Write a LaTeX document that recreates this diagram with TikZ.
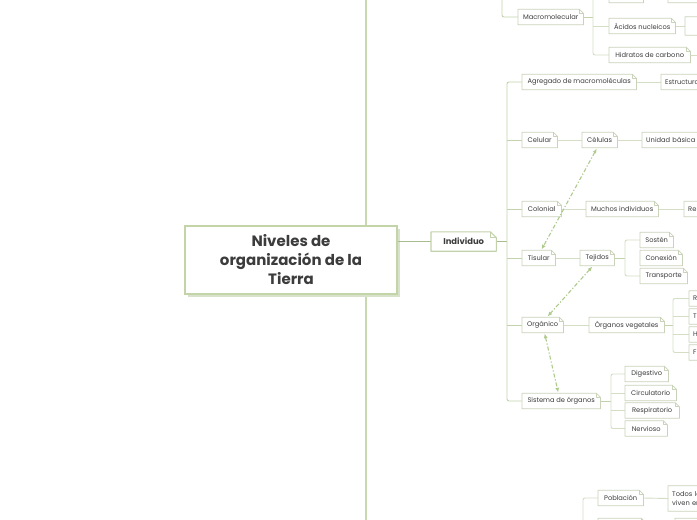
\documentclass[tikz,border=0pt]{standalone}
\usepackage{fontspec}
\setmainfont{Poppins}
\usetikzlibrary{arrows.meta}
\definecolor{trunkc}{HTML}{C8D9B0}
\definecolor{mainc}{HTML}{A9BC90}
\definecolor{branchc}{HTML}{C2D2AC}
\definecolor{subc}{HTML}{D3DEC4}
\definecolor{boxc}{HTML}{C9D3BA}
\definecolor{cenc}{HTML}{C2D4A8}
\definecolor{dashc}{HTML}{AECB8D}
\definecolor{txtc}{HTML}{3C3C3C}
\definecolor{shadc}{HTML}{D8E2CB}
\tikzset{
  nb/.style={fill=white, inner xsep=4pt, inner ysep=0pt, anchor=west, minimum height=15pt,
    text=txtc, font=\fontsize{6.7}{8}\selectfont},
  nbl/.style={nb, align=left},
  boxline/.style={draw=boxc, line width=0.8pt, line join=round},
  trunkline/.style={draw=trunkc, line width=1.1pt},
  mainline/.style={draw=mainc, line width=1.3pt},
  brline/.style={draw=branchc, line width=0.9pt, rounded corners=2pt},
  subline/.style={draw=subc, line width=0.9pt, rounded corners=2pt},
  dashline/.style={draw=dashc, line width=1.1pt, dash pattern=on 4pt off 2pt on 1.2pt off 2pt,
    {Latex[length=4.5pt,width=4pt]}-{Latex[length=4.5pt,width=4pt]}},
}
\newcommand\foldbox[2][4pt]{%
  \draw[boxline] (#2.south west) -- (#2.north west) -- ([xshift=-#1]#2.north east)
     -- ([yshift=-#1]#2.north east) -- (#2.south east) -- cycle;
  \draw[boxline] ([xshift=-#1]#2.north east) |- ([yshift=-#1]#2.north east);
}
\begin{document}
\begin{tikzpicture}[x=1pt,y=-1pt]
\useasboundingbox (0,0) rectangle (697,520);
\clip (0,0) rectangle (697,520);
\fill[white] (0,0) rectangle (697,520);

% ---------- trunk ----------
\coordinate (ttop) at (366,-10);
\coordinate (tbot) at (366,530);
\draw[trunkline] (ttop) -- (tbot);

% ---------- central node ----------
\fill[shadc] (188,229) rectangle (400,297);
\node[fill=white, draw=cenc, line width=1.1pt, minimum width=212pt, minimum height=68pt,
  inner sep=0pt, align=center, text=txtc, font=\bfseries\fontsize{15}{19}\selectfont]
  (cen) at (291,260) {Niveles de\\organización de la\\Tierra};

% ---------- top: Macromolecular ----------
\node[nb, minimum width=65pt] (mac) at (518,17) {Macromolecular};
\node[nb, minimum width=34pt] (lip) at (609,-5) {Lípidos};
\node[nb, minimum width=60pt] (lipr) at (668,-5) {};
\node[nb, minimum width=66pt] (aci) at (609,26) {Ácidos nucleicos};
\node[nb, minimum width=60pt, minimum height=18pt] (acir) at (685,26) {};
\node[nb, minimum width=81pt] (hid) at (609,55) {Hidratos de carbono};
\coordinate (hidr) at (705,55);
\coordinate (mtop) at (502,-10);
\coordinate (mb) at (593,17);
\coordinate (mbt) at (593,-10);

\draw[brline] (mtop) |- (mac.west);
\draw[brline] (mac.east) -- (mb);
\draw[subline] (mbt) |- (hid.west);
\draw[subline] (mb |- lip.west) -- (lip.west);
\draw[subline] (mb |- aci.west) -- (aci.west);
\draw[subline] (lip.east) -- (lipr.west);
\draw[subline] (aci.east) -- (acir.west);
\draw[subline] (hid.east) -- (hidr);

% ---------- Individuo ----------
\node[nb, minimum width=65pt, minimum height=19pt, font=\bfseries\fontsize{8.4}{10}\selectfont]
  (ind) at (431,241.5) {Individuo};
\draw[mainline] (cen.east |- ind.west) -- (ind.west);
\coordinate (b1) at (507,241.5);
\draw[mainline, line width=1.2pt] (ind.east) -- (b1);

\node[nb, minimum width=114pt] (agr) at (522,82) {Agregado de macromoléculas};
\node[nbl, text width=80pt] (est) at (661,82) {Estructura};
\node[nb, minimum width=35pt] (cel) at (522,140) {Celular};
\node[nb, minimum width=35pt] (cels) at (582,140) {Células};
\node[nbl, text width=80pt] (uni) at (642,140) {Unidad básica};
\node[nb, minimum width=39pt] (col) at (522,209) {Colonial};
\node[nb, minimum width=72pt] (muc) at (586,209) {Muchos individuos};
\node[nbl, text width=60pt] (rep) at (684,209) {Re};
\node[nb, minimum width=33pt] (tis) at (522,258) {Tisular};
\node[nb, minimum width=34pt] (tej) at (580,258) {Tejidos};
\node[nb, minimum width=33pt] (sos) at (640,240) {Sostén};
\node[nb, minimum width=42pt] (con) at (640,258) {Conexión};
\node[nb, minimum width=47pt] (tra) at (640,276) {Transporte};
\node[nb, minimum width=41pt] (org) at (522,325) {Orgánico};
\node[nb, minimum width=75pt] (orv) at (589,325) {Órganos vegetales};
\node[nbl, text width=40pt] (ovr) at (689,298.5) {R};
\node[nbl, text width=40pt] (ovt) at (689,316.5) {T};
\node[nbl, text width=40pt] (ovh) at (689,334.5) {H};
\node[nbl, text width=40pt] (ovf) at (689,352.5) {F};
\node[nb, minimum width=78pt] (sis) at (522,401) {Sistema de órganos};
\node[nb, minimum width=43pt] (dig) at (625,374) {Digestivo};
\node[nb, minimum width=51pt] (cir) at (625,393) {Circulatorio};
\node[nb, minimum width=54pt] (res) at (625,410.5) {Respiratorio};
\node[nb, minimum width=42pt] (ner) at (625,428.5) {Nervioso};

% branch lines from Individuo
\draw[brline] (b1) |- (agr.west);
\draw[brline] (b1) |- (sis.west);
\draw[brline] (b1 |- cel.west) -- (cel.west);
\draw[brline] (b1 |- col.west) -- (col.west);
\draw[brline] (b1 |- tis.west) -- (tis.west);
\draw[brline] (b1 |- org.west) -- (org.west);

\draw[subline] (agr.east) -- (est.west);
\draw[subline] (cel.east) -- (cels.west);
\draw[subline] (cels.east) -- (uni.west);
\draw[subline] (col.east) -- (muc.west);
\draw[subline] (muc.east) -- (rep.west);
\draw[subline] (tis.east) -- (tej.west);
\draw[subline] (org.east) -- (orv.west);

\coordinate (tb) at (625,258);
\draw[brline] (tej.east) -- (tb);
\draw[subline] (tb) |- (sos.west);
\draw[subline] (tb) |- (tra.west);

\coordinate (ob) at (673,325);
\draw[brline] (orv.east) -- (ob);
\draw[subline] (ob) |- (ovr.west);
\draw[subline] (ob) |- (ovf.west);
\draw[subline] (ob |- ovt.west) -- (ovt.west);
\draw[subline] (ob |- ovh.west) -- (ovh.west);

\coordinate (sb) at (611,401);
\draw[brline] (sis.east) -- (sb);
\draw[subline] (sb) |- (dig.west);
\draw[subline] (sb) |- (ner.west);
\draw[subline] (sb |- cir.west) -- (cir.west);
\draw[subline] (sb |- res.west) -- (res.west);

% ---------- bottom: Población ----------
\node[nb, minimum width=45pt] (pob) at (598,498) {Población};
\node[nb, minimum width=47pt] (pob2) at (598,526) {};
\node[nbl, text width=60pt, minimum height=25pt, font=\fontsize{6.7}{8.2}\selectfont]
  (tod) at (668,498.5) {Todos los\\viven en};
\node[nbl, text width=60pt] (pob3) at (675,526) {Población};
\coordinate (pbb) at (583,530);
\draw[subline] (pbb) |- (pob.west);
\draw[subline] (pob.east) -- (tod.west);

% ---------- box outlines ----------
\foreach \n in {mac,lip,lipr,aci,acir,hid,agr,est,cel,cels,uni,col,muc,rep,tis,tej,sos,con,tra,
  org,orv,ovr,ovt,ovh,ovf,sis,dig,cir,res,ner,pob,pob2,tod,pob3}{\foldbox{\n}}
\draw[boxline, draw=branchc, line width=1.1pt] (ind.south west) -- (ind.north west) -- ([xshift=-6pt]ind.north east)
  -- ([yshift=-6pt]ind.north east) -- (ind.south east) -- cycle;
\draw[boxline, draw=branchc] ([xshift=-6pt]ind.north east) |- ([yshift=-6pt]ind.north east);

% ---------- dashed relations ----------
\draw[dashline] ([xshift=-3pt,yshift=-1pt]cels.south) -- ([xshift=3pt,yshift=1pt]tis.north);
\draw[dashline] ([xshift=-5pt,yshift=-1pt]tej.south) -- ([xshift=5pt,yshift=1pt]org.north);
\draw[dashline] ([xshift=2pt,yshift=-1pt]org.south) -- ([xshift=-3pt,yshift=1pt]sis.north);
\end{tikzpicture}
\end{document}
